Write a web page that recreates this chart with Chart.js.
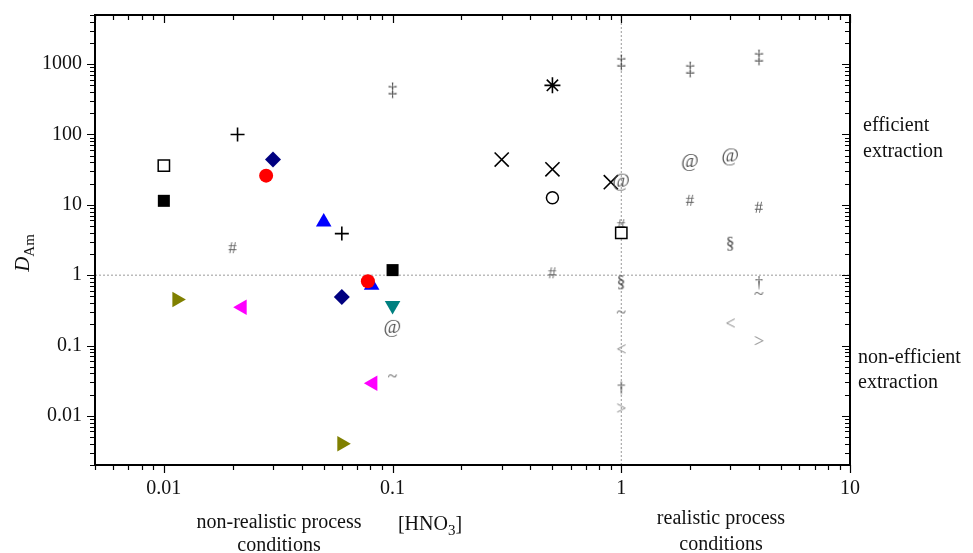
<!DOCTYPE html>
<html>
<head>
<meta charset="utf-8">
<script src="https://cdn.jsdelivr.net/npm/chart.js@4.4.0/dist/chart.umd.min.js"></script>
<style>
  html, body { margin: 0; padding: 0; background: #fff; }
  #wrap { width: 973px; height: 553px; }
</style>
</head>
<body>
<div id="wrap"><canvas id="chart" width="973" height="553"></canvas></div>
<script>
// Axis ranges and labelled ticks
const xRange = [0.005, 10];
const yRange = [0.002, 5000];
const xTickLabels = [0.01, 0.1, 1, 10];
const yTickLabels = [0.01, 0.1, 1, 10, 100, 1000];
const refLevel = 1; // dotted guide lines at D = 1 and [HNO3] = 1

// Points as [HNO3, D_Am]
const squareFilled = [[0.01, 11.4], [0.1, 1.18]];
const squareOpen = [[0.01, 36], [1, 4]];
const circleRed = [[0.028, 26], [0.078, 0.82]];
const diamondNavy = [[0.03, 44], [0.06, 0.49]];
const triUpBlue = [[0.05, 5.7], [0.081, 0.72]];
const triDownTeal = [[0.1, 0.37]];
const triLeftMagenta = [[0.022, 0.35], [0.082, 0.029]];
const triRightOlive = [[0.0114, 0.45], [0.06, 0.004]];
const plusPts = [[0.021, 100], [0.06, 3.9]];
const crossPts = [[0.3, 44], [0.5, 32], [0.9, 21]];
const starPts = [[0.5, 500]];
const circleOpen = [[0.5, 12.6]];
const ddaggerPts = [[0.1, 430], [1, 1070], [2, 850], [4, 1260]];
const atPts = [[0.1, 0.175], [1, 21], [2, 40], [3, 48]];
const hashPts = [[0.02, 2.5], [0.5, 1.1], [1, 5.3], [2, 11.8], [4, 9.4]];
const sectPts = [[1, 0.79], [3, 2.8]];
const tildePts = [[0.1, 0.037], [1, 0.3], [4, 0.55]];
const ltPts = [[1, 0.09], [3, 0.21]];
const gtPts = [[1, 0.013], [4, 0.118]];
const daggerPts = [[1, 0.0245], [4, 0.77]];

const SERIF = '"Liberation Serif", "Times New Roman", serif';

function pts(arr) {
    return arr.map(p => ({ x: p[0], y: p[1] }));
}

// Text symbol used as a point style
function glyph(ch, size, color) {
    const c = document.createElement('canvas');
    const s = Math.ceil(size * 1.5);
    c.width = s; c.height = s;
    const g = c.getContext('2d');
    g.font = size + 'px ' + SERIF;
    g.fillStyle = color;
    const m = g.measureText(ch);
    const w = m.actualBoundingBoxLeft + m.actualBoundingBoxRight;
    const h = m.actualBoundingBoxAscent + m.actualBoundingBoxDescent;
    g.fillText(ch, s / 2 - w / 2 + m.actualBoundingBoxLeft, s / 2 - h / 2 + m.actualBoundingBoxAscent);
    return c;
}

function shape(data, style, color, radius, opts) {
    return Object.assign({
        data: pts(data), pointStyle: style, pointRadius: radius,
        backgroundColor: color, borderColor: color, borderWidth: 0
    }, opts || {});
}

function text(data, ch, size, color) {
    return { data: pts(data), pointStyle: glyph(ch, size, color), pointRadius: 8 };
}

function guide(data) {
    return {
        data: pts(data), showLine: true, pointRadius: 0, order: 1,
        borderColor: '#9a9a9a', borderWidth: 1, borderDash: [2, 2], fill: false
    };
}

// log steps 1..9 x 10^n inside a range, flag for decades
function logSteps(range) {
    const out = [];
    for (let d = Math.floor(Math.log10(range[0])); d <= Math.ceil(Math.log10(range[1])); d++) {
        for (let k = 1; k <= 9; k++) {
            const v = k * Math.pow(10, d);
            if (v >= range[0] * 0.999 && v <= range[1] * 1.001) out.push([v, k === 1]);
        }
    }
    return out;
}

function drawParts(ctx, parts, cx, cy) {
    let w = 0;
    parts.forEach(p => { ctx.font = p.font; p.w = ctx.measureText(p.t).width; w += p.w; });
    let x = cx - w / 2;
    parts.forEach(p => { ctx.font = p.font; ctx.fillText(p.t, x, cy + (p.dy || 0)); x += p.w; });
}

const frame = {
    id: 'frame',
    afterDraw(chart) {
        const { ctx, chartArea: a, scales: { x, y } } = chart;
        ctx.save();
        ctx.strokeStyle = '#000';
        ctx.lineWidth = 1.2;
        ctx.beginPath();
        logSteps(xRange).forEach(([v, major]) => {
            const px = Math.round(x.getPixelForValue(v)) + 0.5, len = major ? 8 : 5;
            ctx.moveTo(px, a.bottom); ctx.lineTo(px, a.bottom + len);
            ctx.moveTo(px, a.top); ctx.lineTo(px, a.top + len);
        });
        logSteps(yRange).forEach(([v, major]) => {
            const py = Math.round(y.getPixelForValue(v)) + 0.5, len = major ? 8 : 5;
            ctx.moveTo(a.left - len, py); ctx.lineTo(a.left, py);
            ctx.moveTo(a.right - len, py); ctx.lineTo(a.right, py);
        });
        ctx.stroke();
        ctx.lineWidth = 2;
        ctx.strokeRect(a.left, a.top, a.right - a.left, a.bottom - a.top);

        // annotations
        ctx.fillStyle = '#111';
        ctx.font = '20px ' + SERIF;
        ctx.textBaseline = 'middle';
        ctx.textAlign = 'left';
        ctx.fillText('efficient', a.right + 13, 126);
        ctx.fillText('extraction', a.right + 13, 152);
        ctx.fillText('non-efficient', a.right + 8, 358);
        ctx.fillText('extraction', a.right + 8, 383);
        ctx.textAlign = 'center';
        ctx.fillText('non-realistic process', 279, 523);
        ctx.fillText('conditions', 279, 546);
        ctx.fillText('realistic process', 721, 519);
        ctx.fillText('conditions', 721, 545);

        // [HNO3]
        ctx.textAlign = 'left';
        ctx.textBaseline = 'alphabetic';
        drawParts(ctx, [
            { t: '[HNO', font: '20px ' + SERIF },
            { t: '3', font: '15px ' + SERIF, dy: 5 },
            { t: ']', font: '20px ' + SERIF }
        ], 430, 530);

        // D_Am
        ctx.translate(29, 253);
        ctx.rotate(-Math.PI / 2);
        drawParts(ctx, [
            { t: 'D', font: 'italic 21px ' + SERIF },
            { t: 'Am', font: '15px ' + SERIF, dy: 5 }
        ], 0, 0);
        ctx.restore();
    }
};

const datasets = [
    text(atPts, '@', 19, '#505050'),
    shape(crossPts, 'crossRot', '#000', 10, { borderWidth: 1.6 }),
    shape(circleRed, 'circle', '#ff0000', 7),
    shape(diamondNavy, 'rectRot', '#000080', 8),
    shape(triUpBlue, 'triangle', '#0000ff', 9),
    shape(triDownTeal, 'triangle', '#008080', 9, { pointRotation: 180 }),
    shape(triLeftMagenta, 'triangle', '#ff00ff', 9, { pointRotation: 270 }),
    shape(triRightOlive, 'triangle', '#808000', 9, { pointRotation: 90 }),
    shape(squareFilled, 'rect', '#000', 8.5),
    shape(squareOpen, 'rect', '#fff', 8, { borderColor: '#000', borderWidth: 1.5 }),
    shape(circleOpen, 'circle', '#fff', 6, { borderColor: '#000', borderWidth: 1.5 }),
    shape(plusPts, 'cross', '#000', 7, { borderWidth: 1.6 }),
    shape(starPts, 'star', '#000', 8, { borderWidth: 1.6 }),
    text(ddaggerPts, '\u2021', 18, '#404040'),
    text(hashPts, '#', 17, '#606060'),
    text(sectPts, '\u00a7', 17, '#404040'),
    text(tildePts, '~', 18, '#707070'),
    text(ltPts, '<', 18, '#888'),
    text(gtPts, '>', 18, '#888'),
    text(daggerPts, '\u2020', 16, '#505050'),
    guide([[xRange[0], refLevel], [xRange[1], refLevel]]),
    guide([[refLevel, yRange[0]], [refLevel, yRange[1]]])
];

new Chart(document.getElementById('chart'), {
    type: 'scatter',
    data: { datasets: datasets },
    options: {
        responsive: false,
        animation: false,
        layout: { padding: { top: 15, right: 123, bottom: 0, left: 0 } },
        plugins: { legend: { display: false }, tooltip: { enabled: false } },
        scales: {
            x: {
                type: 'logarithmic', min: xRange[0], max: xRange[1],
                grid: { display: false, drawTicks: false, tickLength: 0 },
                border: { display: false },
                afterBuildTicks: s => { s.ticks = xTickLabels.map(v => ({ value: v })); },
                afterFit: s => { s.height = 88; s.paddingLeft = 0; s.paddingRight = 0; },
                ticks: {
                    autoSkip: false, maxRotation: 0, padding: 12, color: '#111',
                    font: { family: SERIF, size: 20 },
                    callback: v => String(v)
                }
            },
            y: {
                type: 'logarithmic', min: yRange[0], max: yRange[1],
                grid: { display: false, drawTicks: false, tickLength: 0 },
                border: { display: false },
                afterBuildTicks: s => { s.ticks = yTickLabels.map(v => ({ value: v })); },
                afterFit: s => { s.width = 95; s.paddingTop = 0; s.paddingBottom = 0; },
                ticks: {
                    autoSkip: false, padding: 13, color: '#111',
                    font: { family: SERIF, size: 20 },
                    callback: v => String(v)
                }
            }
        }
    },
    plugins: [frame]
});
</script>
</body>
</html>
